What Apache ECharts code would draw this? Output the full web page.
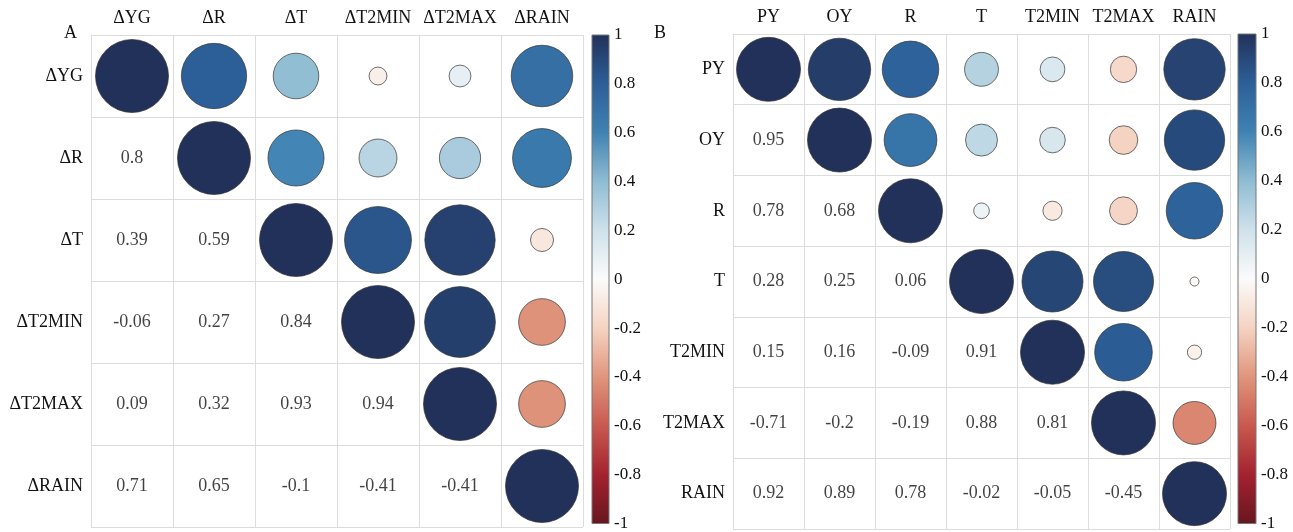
<!DOCTYPE html>
<html>
<head>
<meta charset="utf-8">
<script src="https://cdn.jsdelivr.net/npm/echarts@6/dist/echarts.min.js"></script>
<style>
  html, body { margin: 0; padding: 0; background: #fff; }
  #chart { width: 1293px; height: 532px; }
</style>
</head>
<body>
<div id="chart"></div>
<script>
// Panel A: correlations between the year-on-year differences
const namesA = ['ΔYG', 'ΔR', 'ΔT', 'ΔT2MIN', 'ΔT2MAX', 'ΔRAIN'];
// upper triangle incl. diagonal, row i starts at column i
const circlesA = [
  [1, 0.8, 0.39, -0.06, 0.09, 0.71],
  [1, 0.59, 0.27, 0.32, 0.65],
  [1, 0.84, 0.93, -0.1],
  [1, 0.94, -0.41],
  [1, -0.41],
  [1]
];
// lower triangle printed values, row i covers columns 0..i-1
const labelsA = [
  [],
  [0.8],
  [0.39, 0.59],
  [-0.06, 0.27, 0.84],
  [0.09, 0.32, 0.93, 0.94],
  [0.71, 0.65, -0.1, -0.41, -0.41]
];

// Panel B: correlations between the raw variables
const namesB = ['PY', 'OY', 'R', 'T', 'T2MIN', 'T2MAX', 'RAIN'];
const circlesB = [
  [1, 0.95, 0.78, 0.28, 0.15, -0.17, 0.92],
  [1, 0.68, 0.25, 0.16, -0.2, 0.89],
  [1, 0.06, -0.09, -0.19, 0.78],
  [1, 0.91, 0.88, -0.02],
  [1, 0.81, -0.05],
  [1, -0.45],
  [1]
];
const labelsB = [
  [],
  [0.95],
  [0.78, 0.68],
  [0.28, 0.25, 0.06],
  [0.15, 0.16, -0.09, 0.91],
  [-0.71, -0.2, -0.19, 0.88, 0.81],
  [0.92, 0.89, 0.78, -0.02, -0.05, -0.45]
];

// colour bar ticks
const colorbarTicks = [-1, -0.8, -0.6, -0.4, -0.2, 0, 0.2, 0.4, 0.6, 0.8, 1];

// diverging palette, from -1 (red) to 1 (blue)
const palette = ['#67161f', '#a3222f', '#c8594f', '#e0957c', '#f5d3c2', '#fbfbfb',
                 '#cfe1eb', '#8fbcd3', '#3f82b2', '#2c5f97', '#22315a'];

const FONT = 'Liberation Serif';
const TEXT = '#111';
const GRID_LINE = '#dcdcdc';

function upperPoints(rows) {
  const out = [];
  rows.forEach((row, i) => row.forEach((v, k) => out.push([i + k, i, v])));
  return out;
}
function lowerPoints(rows) {
  const out = [];
  rows.forEach((row, i) => row.forEach((v, j) => out.push([j, i, v])));
  return out;
}

function matrixAxes(names, gridIndex) {
  const axisLine = { show: true, lineStyle: { color: GRID_LINE, width: 1 } };
  const split = { show: true, lineStyle: { color: GRID_LINE, width: 1 } };
  return {
    x: {
      type: 'category', gridIndex, data: names, position: 'top',
      boundaryGap: true, axisLine, axisTick: { show: false }, splitLine: split,
      axisLabel: { fontFamily: FONT, fontSize: 18, color: TEXT, margin: 8, interval: 0 }
    },
    y: {
      type: 'category', gridIndex, data: names, inverse: true,
      boundaryGap: true, axisLine, axisTick: { show: false }, splitLine: split,
      axisLabel: { fontFamily: FONT, fontSize: 18, color: TEXT, margin: 8, interval: 0 }
    }
  };
}

const axA = matrixAxes(namesA, 0);
const axB = matrixAxes(namesB, 1);

function colorbarAxes(gridIndex) {
  return {
    x: { type: 'value', gridIndex, min: 0, max: 1, show: false },
    y: {
      type: 'value', gridIndex, min: -1, max: 1, interval: 0.2, position: 'right',
      axisLine: { show: false },
      axisTick: { show: true, length: 4, lineStyle: { color: '#444', width: 1 } },
      splitLine: { show: false },
      axisLabel: {
        fontFamily: FONT, fontSize: 17, color: TEXT, margin: 5,
        formatter: v => {
          const t = colorbarTicks.find(c => Math.abs(c - v) < 1e-6);
          return t === undefined ? '' : String(t);
        }
      }
    }
  };
}
const cbA = colorbarAxes(2);
const cbB = colorbarAxes(3);

function colorbarSeries(xi, yi) {
  return {
    type: 'custom', xAxisIndex: xi, yAxisIndex: yi, silent: true,
    data: [[0, 0]],
    renderItem: (params) => {
      const cs = params.coordSys;
      const stops = palette.map((c, i) => ({ offset: 1 - i / (palette.length - 1), color: c }))
                           .sort((a, b) => a.offset - b.offset);
      return {
        type: 'rect',
        shape: { x: cs.x, y: cs.y, width: cs.width, height: cs.height },
        style: {
          fill: new echarts.graphic.LinearGradient(0, 0, 0, 1, stops),
          stroke: '#777', lineWidth: 1
        }
      };
    }
  };
}

function circleSeries(rows, xi, yi, fullSize) {
  return {
    type: 'scatter', xAxisIndex: xi, yAxisIndex: yi,
    data: upperPoints(rows),
    symbol: 'circle',
    symbolSize: d => fullSize * Math.sqrt(Math.abs(d[2])),
    itemStyle: { borderColor: '#333', borderWidth: 0.7, opacity: 1 },
    silent: true, z: 3
  };
}

function labelSeries(rows, xi, yi) {
  return {
    type: 'scatter', xAxisIndex: xi, yAxisIndex: yi,
    data: lowerPoints(rows),
    symbolSize: 0,
    itemStyle: { color: 'transparent' },
    label: {
      show: true, position: 'inside',
      formatter: p => String(p.value[2]),
      fontFamily: FONT, fontSize: 18, color: TEXT
    },
    silent: true, z: 4
  };
}

const option = {
  backgroundColor: '#fff',
  animation: false,
  title: [
    { text: 'A', left: 59, top: 19, textStyle: { fontFamily: FONT, fontSize: 18, fontWeight: 'normal', color: TEXT } },
    { text: 'B', left: 649, top: 19, textStyle: { fontFamily: FONT, fontSize: 18, fontWeight: 'normal', color: TEXT } }
  ],
  grid: [
    { left: 91, top: 35, width: 492, height: 492 },
    { left: 733, top: 34, width: 497, height: 495 },
    { left: 592, top: 35, width: 17, height: 492 },
    { left: 1238, top: 34, width: 18, height: 493 }
  ],
  xAxis: [axA.x, axB.x, cbA.x, cbB.x],
  yAxis: [axA.y, axB.y, cbA.y, cbB.y],
  visualMap: [
    { type: 'continuous', show: false, min: -1, max: 1, dimension: 2, seriesIndex: 0, inRange: { color: palette } },
    { type: 'continuous', show: false, min: -1, max: 1, dimension: 2, seriesIndex: 2, inRange: { color: palette } }
  ],
  series: [
    circleSeries(circlesA, 0, 0, 73),
    labelSeries(labelsA, 0, 0),
    circleSeries(circlesB, 1, 1, 64),
    labelSeries(labelsB, 1, 1),
    colorbarSeries(2, 2),
    colorbarSeries(3, 3)
  ]
};

const chart = echarts.init(document.getElementById('chart'));
chart.setOption(option);
</script>
</body>
</html>
